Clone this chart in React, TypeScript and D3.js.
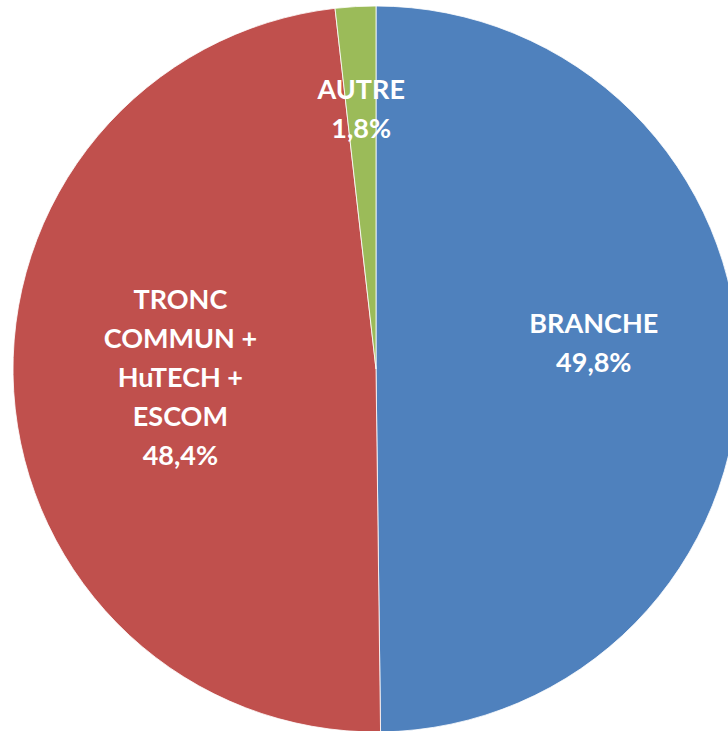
import React from "react";
import * as d3 from "d3";

const categories = ["BRANCHE", "TRONC COMMUN + HuTECH + ESCOM", "AUTRE"];
const values = [49.8, 48.4, 1.8];
const labelLines = [["BRANCHE", "49,8%"], ["TRONC", "COMMUN +", "HuTECH +", "ESCOM", "48,4%"], ["AUTRE", "1,8%"]];
const colors = ["#4F81BD", "#C0504D", "#9BBB59"];

const W = 728;
const H = 731;
const cx = 376;
const cy = 369;
const R = 363;
const labelRadiusFactor = [0.6, 0.54, 0.72];
const labelDy = [-26, -5, -1];
const lineH = 39;

export default function App() {
  const data = categories.map((c, i) => ({ c, v: values[i], i }));
  const pie = d3.pie<any>().value((d) => d.v).sort(null);
  const arcs = pie(data);
  const arc = d3.arc<any>().innerRadius(0).outerRadius(R);
  return (
    <svg width={W} height={H} style={{ position: "absolute", left: 0, top: 0 }}>
      <g transform={`translate(${cx},${cy})`}>
        {arcs.map((a, i) => (
          <path key={i} d={arc(a) as string} fill={colors[i]} stroke="#fff" strokeWidth={0.8} />
        ))}
        {arcs.map((a, i) => {
          const lr = R * labelRadiusFactor[i];
          const [x, y0] = d3.arc<any>().innerRadius(lr).outerRadius(lr).centroid(a);
          const lines = labelLines[i];
          const y = y0 + labelDy[i] - ((lines.length - 1) * lineH) / 2;
          return (
            <text key={"t" + i} x={x} y={y} textAnchor="middle" dominantBaseline="central"
              fill="#fff" fontFamily="Lato, 'Open Sans', sans-serif" fontWeight={700} fontSize={27}>
              {lines.map((l, j) => (
                <tspan key={j} x={x} y={y + j * lineH}>{l}</tspan>
              ))}
            </text>
          );
        })}
      </g>
    </svg>
  );
}
